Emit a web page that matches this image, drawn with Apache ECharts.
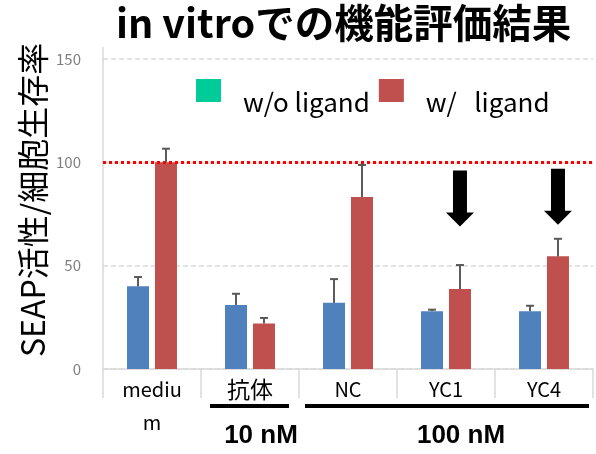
<!DOCTYPE html>
<html>
<head>
<meta charset="utf-8">
<script src="https://cdn.jsdelivr.net/npm/echarts@6/dist/echarts.min.js"></script>
<style>
html,body{margin:0;padding:0;background:#fff;}
#chart{width:596px;height:454px;}
</style>
</head>
<body>
<div id="chart"></div>
<script>
// ---- data ----
const categories = ['mediu\nm', '抗体', 'NC', 'YC1', 'YC4'];
const seriesNames = ['w/o ligand', 'w/   ligand'];
const woLigand = [40, 31, 32, 28, 28];
const woLigandErr = [4.5, 5.4, 11.5, 0.7, 2.6];
const wLigand = [100, 22, 83.2, 38.7, 54.5];
const wLigandErr = [6.6, 2.7, 15.5, 11.6, 8.5];
const yTicks = [0, 50, 100, 150];
const refValue = 100;
const arrowCats = ['YC1', 'YC4'];
const arrowValues = [82.5, 83.3];
const titleText = 'in vitroでの機能評価結果';
const yAxisTitle = 'SEAP活性/細胞生存率';
const groupLabels = ['10 nM', '100 nM'];

const FONT = '"Noto Sans CJK JP", "Noto Sans", sans-serif';
const BLUE = '#4F81BD', RED = '#C0504D', TEAL = '#00CC99';
const BAR_W = 22, BAR_GAP = 0.27;
const OFF = (BAR_W + BAR_W * BAR_GAP) / 2;

function errRender(sign) {
  return function (params, api) {
    const ci = api.value(0), v = api.value(1), e = api.value(2);
    const base = api.coord([ci, v]);
    const top = api.coord([ci, v + e]);
    const x = base[0] + sign * OFF;
    return {
      type: 'group',
      children: [
        { type: 'line', shape: { x1: x, y1: base[1], x2: x, y2: top[1] }, style: { stroke: '#595959', lineWidth: 2 } },
        { type: 'line', shape: { x1: x - 4, y1: top[1], x2: x + 4, y2: top[1] }, style: { stroke: '#595959', lineWidth: 2 } }
      ]
    };
  };
}

const chart = echarts.init(document.getElementById('chart'), null, { renderer: 'canvas' });
const arrowPath = 'path://M7,0 L21,0 L21,42 L28,42 L14,56 L0,42 L7,42 Z';
// legend icon: square at the top of a taller (invisible) box, so the text sits lower
const legendIcon = 'path://M0,0L25,0L25,23L0,23Z M0,47L0.05,47L0.05,46.95Z';

chart.setOption({
  animation: false,
  backgroundColor: '#fff',
  textStyle: { fontFamily: FONT },
  title: {
    text: titleText,
    left: 111, top: -2,
    textStyle: { fontFamily: FONT, fontSize: 39.5, fontWeight: 'bold', color: '#000' }
  },
  legend: {
    left: 196, top: 79, padding: 0,
    icon: legendIcon, symbolKeepAspect: false,
    itemWidth: 25, itemHeight: 47, itemGap: 9,
    data: [
      { name: seriesNames[0], itemStyle: { color: TEAL } },
      { name: seriesNames[1], itemStyle: { color: RED } }
    ],
    textStyle: { fontFamily: FONT, fontSize: 26, color: '#000', padding: [0, 0, 0, 17] }
  },
  grid: { left: 103, right: 3, top: 59, bottom: 85, containLabel: false },
  xAxis: {
    type: 'category',
    data: categories,
    axisLine: { lineStyle: { color: '#d9d9d9', width: 1.5 } },
    axisTick: { show: true, length: 29, interval: 0, lineStyle: { color: '#d9d9d9', width: 1.5 } },
    axisLabel: {
      color: '#000', fontSize: 20, lineHeight: 33, margin: 4, interval: 0, fontFamily: FONT,
      formatter: v => /[\u3000-\u9fff]/.test(v) ? '{cjk|' + v + '}' : v,
      rich: { cjk: { fontSize: 23, lineHeight: 33, color: '#000', fontFamily: FONT } }
    }
  },
  yAxis: {
    type: 'value',
    min: yTicks[0], max: yTicks[yTicks.length - 1], interval: 50,
    axisLine: { show: true, lineStyle: { color: '#d9d9d9', width: 1.5 } },
    axisTick: { show: false },
    axisLabel: { color: '#7f7f7f', fontSize: 15, margin: 22, fontFamily: FONT },
    splitLine: { lineStyle: { color: '#d9d9d9', type: [5, 3], width: 1.5 } }
  },
  series: [
    {
      name: seriesNames[0], type: 'bar', data: woLigand,
      barWidth: BAR_W, barGap: (BAR_GAP * 100) + '%',
      itemStyle: { color: BLUE },
      markLine: {
        silent: true, symbol: 'none', label: { show: false },
        lineStyle: { color: '#ff0000', type: [3, 3], width: 3 },
        data: [{ yAxis: refValue }]
      }
    },
    {
      name: seriesNames[1], type: 'bar', data: wLigand,
      barWidth: BAR_W, barGap: (BAR_GAP * 100) + '%',
      itemStyle: { color: RED },
      markPoint: {
        symbol: arrowPath, symbolSize: [28, 56], symbolKeepAspect: false,
        itemStyle: { color: '#000' }, label: { show: false },
        data: arrowCats.map((c, i) => ({ coord: [c, arrowValues[i]] }))
      }
    },
    {
      type: 'custom', name: 'err0', z: 5, renderItem: errRender(-1),
      data: woLigand.map((v, i) => [i, v, woLigandErr[i]])
    },
    {
      type: 'custom', name: 'err1', z: 5, renderItem: errRender(1),
      data: wLigand.map((v, i) => [i, v, wLigandErr[i]])
    }
  ],
  graphic: [
    { type: 'line', shape: { x1: 103, y1: 47, x2: 103, y2: 59 }, style: { stroke: '#d9d9d9', lineWidth: 1.5 } },
    { type: 'text', x: 33, y: 357, rotation: Math.PI / 2,
      style: { text: yAxisTitle, fontFamily: FONT, fontSize: 32, fill: '#000', textAlign: 'left', textVerticalAlign: 'middle' } },
    { type: 'rect', shape: { x: 210, y: 404, width: 79, height: 4 }, style: { fill: '#000' } },
    { type: 'rect', shape: { x: 305, y: 404, width: 284, height: 4 }, style: { fill: '#000' } },
    { type: 'text', x: 261, y: 436,
      style: { text: groupLabels[0], fontFamily: '"Liberation Sans", Arial, sans-serif', fontWeight: 'bold', fontSize: 26, fill: '#000', textAlign: 'center', textVerticalAlign: 'middle' } },
    { type: 'text', x: 461, y: 436,
      style: { text: groupLabels[1], fontFamily: '"Liberation Sans", Arial, sans-serif', fontWeight: 'bold', fontSize: 26, fill: '#000', textAlign: 'center', textVerticalAlign: 'middle' } }
  ]
});
</script>
</body>
</html>
